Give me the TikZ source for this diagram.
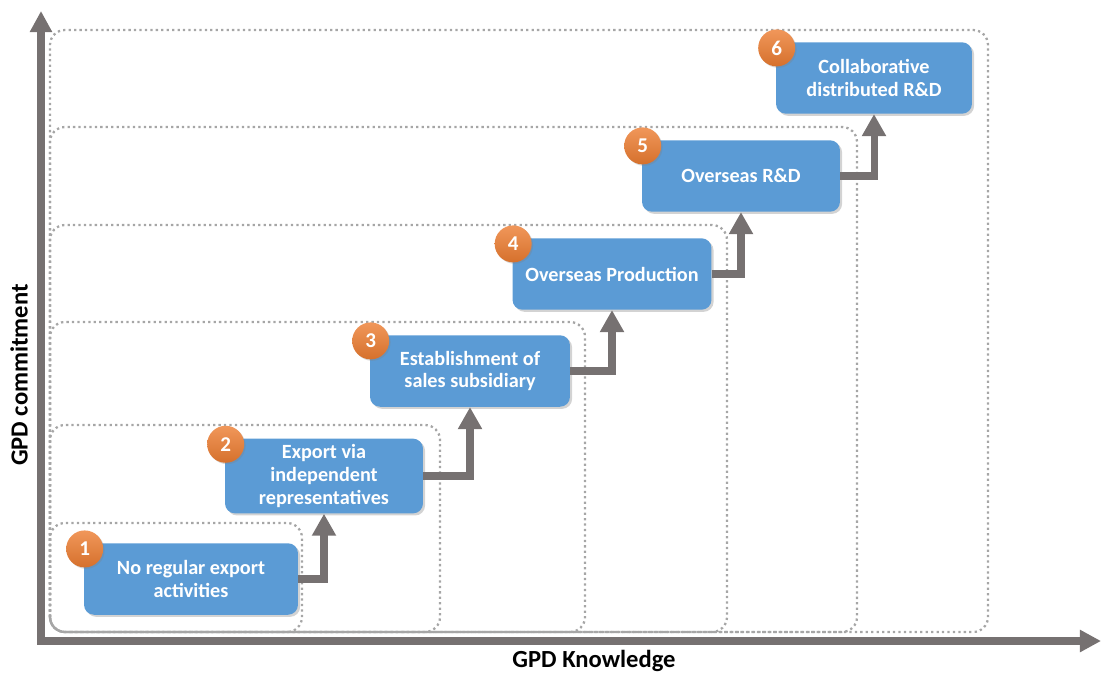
\documentclass[tikz,border=0pt]{standalone}
\usepackage{fontspec}
\setmainfont{Carlito}
\usetikzlibrary{arrows.meta,shadows}

\definecolor{stageblue}{HTML}{5B9BD5}
\definecolor{numorange}{HTML}{ED7D31}
\definecolor{arrowgray}{HTML}{767171}
\definecolor{dotgray}{HTML}{A6A6A6}

\tikzset{
  stage/.style={rounded corners=0.2cm, fill=stageblue, text=white, align=center,
    font=\bfseries\fontsize{11.5}{13}\selectfont, minimum height=1.43cm,
    drop shadow={opacity=0.35, shadow xshift=1.2pt, shadow yshift=-1.2pt}},
  num/.style={circle, minimum size=0.74cm, inner sep=0pt, text=white,
    top color=numorange!80!white, bottom color=numorange!90!black,
    font=\bfseries\fontsize{12}{13}\selectfont,
    drop shadow={opacity=0.3, shadow xshift=0.8pt, shadow yshift=-0.8pt}},
  dotbox/.style={draw=dotgray, line width=1.3pt, dash pattern=on 1.3pt off 1.8pt,
    rounded corners=0.3cm},
  axis/.style={draw=arrowgray, line width=4.3pt, -{Triangle[width=12pt,length=12pt]}},
  stepline/.style={draw=arrowgray, line width=4pt, -{Triangle[width=13pt,length=12.5pt]}},
  axlabel/.style={font=\bfseries\fontsize{14}{16}\selectfont, text=black}
}

\begin{document}
\begin{tikzpicture}[x=0.02cm, y=-0.02cm]
  \useasboundingbox (0,0) rectangle (1101,673);

  % nested dotted frames
  \foreach \r/\t in {302/523, 440/425, 585/322, 727/225, 857/127, 988/30}
    \draw[dotbox] (50,632) rectangle (\r,\t);

  % axes
  \coordinate (o) at (41,641);
  \coordinate (ytop) at (41,11);
  \coordinate (xend) at (1101,641);
  \draw[axis] ([yshift=-2pt]o) -- (ytop);
  \draw[axis] ([xshift=-2pt]o) -- (xend);
  \node[axlabel, rotate=90] (ylab) at (19,375) {GPD commitment};
  \node[axlabel] (xlab) at (594,661) {GPD Knowledge};

  % stages
  \node[stage, minimum width=4.28cm] (s1) at (191,579) {No regular export\\activities};
  \node[stage, minimum width=3.96cm] (s2) at (324,476) {Export via\\independent\\representatives};
  \node[stage, minimum width=4.0cm] (s3) at (470,371) {Establishment of\\sales subsidiary};
  \node[stage, minimum width=3.98cm] (s4) at (612,274) {Overseas Production};
  \node[stage, minimum width=3.96cm] (s5) at (741,176) {Overseas R\&D};
  \node[stage, minimum width=3.92cm] (s6) at (874,78) {Collaborative\\distributed R\&D};

  % step numbers
  \foreach \i in {1,...,6}
    \node[num] (n\i) at ([xshift=0.02cm, yshift=-0.12cm]s\i.north west) {\i};

  % steps
  \draw[stepline] (s1.east) -| (s2.south);
  \draw[stepline] (s2.east) -| (s3.south);
  \draw[stepline] (s3.east) -| (s4.south);
  \draw[stepline] (s4.east) -| (s5.south);
  \draw[stepline] (s5.east) -| (s6.south);
\end{tikzpicture}
\end{document}
